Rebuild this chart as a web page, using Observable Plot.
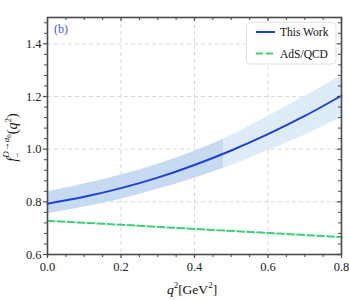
<!DOCTYPE html>
<html><head><meta charset="utf-8">
<script src="https://cdn.jsdelivr.net/npm/d3@7"></script>
<script src="https://cdn.jsdelivr.net/npm/@observablehq/plot@0.6"></script>
<style>body{margin:0;background:#fff} svg{overflow:visible}</style>
</head><body><div id="chart"></div>
<script>
// ---- data ----
const qValues = [0, 0.1, 0.2, 0.3, 0.4, 0.5, 0.6, 0.7, 0.8];
const thisWork = [0.793, 0.819, 0.852, 0.892, 0.940, 0.995, 1.057, 1.126, 1.203];

const bandDarkQ = [0, 0.1, 0.2, 0.3, 0.4, 0.48];
const bandDarkLow = [0.755, 0.780, 0.810, 0.848, 0.890, 0.928];
const bandDarkHigh = [0.838, 0.868, 0.902, 0.943, 0.992, 1.040];

const bandLightQ = [0.48, 0.5, 0.6, 0.7, 0.8];
const bandLightLow = [0.928, 0.938, 0.995, 1.053, 1.120];
const bandLightHigh = [1.040, 1.052, 1.125, 1.200, 1.280];

const adsQ = [0, 0.2, 0.4, 0.6, 0.8];
const adsQCD = [0.728, 0.713, 0.697, 0.682, 0.666];

const xMajor = [0, 0.2, 0.4, 0.6, 0.8];
const xMinor = [0.05, 0.1, 0.15, 0.25, 0.3, 0.35, 0.45, 0.5, 0.55, 0.65, 0.7, 0.75];
const yMajor = [0.6, 0.8, 1.0, 1.2, 1.4];
const yMinor = [0.64, 0.68, 0.72, 0.76, 0.84, 0.88, 0.92, 0.96, 1.04, 1.08, 1.12, 1.16, 1.24, 1.28, 1.32, 1.36, 1.44, 1.48];
const legendLabels = ["This Work", "AdS/QCD"];

// ---- tables ----
const lineData = qValues.map((q, i) => ({q, v: thisWork[i]}));
const darkData = bandDarkQ.map((q, i) => ({q, lo: bandDarkLow[i], hi: bandDarkHigh[i]}));
const lightData = bandLightQ.map((q, i) => ({q, lo: bandLightLow[i], hi: bandLightHigh[i]}));
const adsData = adsQ.map((q, i) => ({q, v: adsQCD[i]}));

const W = 349, H = 300;
const mL = 47, mR = 8, mT = 17, mB = 46;
const pw = W - mL - mR, ph = H - mT - mB;
const frameColor = "#4a4a4a";
const blue = "#1d3fe4", green = "#3dcf7b";

const chart = Plot.plot({
  width: W, height: H,
  marginLeft: mL, marginRight: mR, marginTop: mT, marginBottom: mB,
  style: {fontFamily: "'Liberation Serif', 'DejaVu Serif', serif", fontSize: "12.5px", color: "#222", background: "#fff"},
  x: {domain: [0, 0.8], label: null},
  y: {domain: [0.6, 1.5], label: null},
  marks: [
    Plot.gridX(xMajor, {stroke: "#d8d8d8", strokeOpacity: 1, strokeDasharray: "4,3"}),
    Plot.gridY(yMajor, {stroke: "#d8d8d8", strokeOpacity: 1, strokeDasharray: "4,3"}),
    Plot.areaY(darkData, {x: "q", y1: "lo", y2: "hi", fill: "#c6dbf2", curve: "monotone-x"}),
    Plot.areaY(lightData, {x: "q", y1: "lo", y2: "hi", fill: "#deebf8", curve: "monotone-x"}),
    Plot.line(adsData, {x: "q", y: "v", stroke: green, strokeWidth: 2, strokeDasharray: "7,3"}),
    Plot.line(lineData, {x: "q", y: "v", stroke: blue, strokeWidth: 2, curve: "monotone-x"}),
    Plot.frame({stroke: frameColor, strokeWidth: 1.6}),
    // bottom ticks (outward)
    Plot.tickX(xMajor, {x: d => d, insetTop: ph - 4, dy: 4, stroke: frameColor, strokeWidth: 1.2}),
    Plot.tickX(xMinor, {x: d => d, insetTop: ph - 3, dy: 3, stroke: frameColor, strokeWidth: 1}),
    // top ticks (inward)
    Plot.tickX(xMajor, {x: d => d, insetBottom: ph - 4, stroke: frameColor, strokeWidth: 1.2}),
    Plot.tickX(xMinor, {x: d => d, insetBottom: ph - 3, stroke: frameColor, strokeWidth: 1}),
    // left ticks (outward)
    Plot.tickY(yMajor, {y: d => d, insetRight: pw - 4, dx: -4, stroke: frameColor, strokeWidth: 1.2}),
    Plot.tickY(yMinor, {y: d => d, insetRight: pw - 3, dx: -3, stroke: frameColor, strokeWidth: 1}),
    // right ticks (inward)
    Plot.tickY(yMajor, {y: d => d, insetLeft: pw - 4, stroke: frameColor, strokeWidth: 1.2}),
    Plot.tickY(yMinor, {y: d => d, insetLeft: pw - 3, stroke: frameColor, strokeWidth: 1}),
    Plot.axisX(xMajor, {tickSize: 0, tickPadding: 8, tickFormat: d => d.toFixed(1), label: null, fontSize: 12.5}),
    Plot.axisY(yMajor, {tickSize: 0, tickPadding: 6, tickFormat: d => d.toFixed(1), label: null, fontSize: 12.5})
  ]
});
document.getElementById("chart").appendChild(chart);

// ---- text decorations (labels, legend) ----
const svg = d3.select(chart);
const serif = "'Liberation Serif', 'DejaVu Serif', serif";

// panel tag
svg.append("text").attr("x", 54).attr("y", 33).attr("text-anchor", "start").attr("fill", "#3a5ae0")
  .attr("font-family", serif).attr("font-size", 12).text("(b)");

// x label: q^2[GeV^2]
const xl = svg.append("text").attr("x", mL + pw / 2 - 2).attr("y", 294).attr("text-anchor", "middle")
  .attr("font-family", serif).attr("font-size", 13.5).attr("fill", "#111");
xl.append("tspan").attr("font-style", "italic").text("q");
xl.append("tspan").attr("font-size", 9).attr("dy", -6).text("2");
xl.append("tspan").attr("dy", 6).text("[GeV");
xl.append("tspan").attr("font-size", 9).attr("dy", -6).text("2");
xl.append("tspan").attr("dy", 6).text("]");

// y label: f_-^{D→a0}(q^2)
const yl = svg.append("text").attr("transform", `translate(17,${mT + ph / 2 + 2}) rotate(-90)`)
  .attr("text-anchor", "middle").attr("font-family", serif).attr("font-size", 14).attr("fill", "#111");
yl.append("tspan").attr("font-style", "italic").text("f");
yl.append("tspan").attr("font-size", 9).attr("dy", 3).text("−");
yl.append("tspan").attr("font-size", 9).attr("dy", -11).attr("dx", -5).attr("font-style", "italic").text("D→a");
yl.append("tspan").attr("font-size", 7).attr("dy", 2).text("0");
yl.append("tspan").attr("dy", 6).text("(");
yl.append("tspan").attr("font-style", "italic").text("q");
yl.append("tspan").attr("font-size", 9).attr("dy", -6).text("2");
yl.append("tspan").attr("dy", 6).text(")");

// legend
const lg = svg.append("g");
lg.append("rect").attr("x", 246.5).attr("y", 22.5).attr("width", 89.5).attr("height", 41.5)
  .attr("rx", 4).attr("fill", "#fff").attr("fill-opacity", 0.85).attr("stroke", "#e0e0e0").attr("stroke-width", 1);
lg.append("line").attr("x1", 256).attr("x2", 275).attr("y1", 32).attr("y2", 32)
  .attr("stroke", blue).attr("stroke-width", 2);
lg.append("line").attr("x1", 256).attr("x2", 275).attr("y1", 53.5).attr("y2", 53.5)
  .attr("stroke", green).attr("stroke-width", 2).attr("stroke-dasharray", "7,3");
lg.append("text").attr("x", 280).attr("y", 36).attr("text-anchor", "start").attr("font-family", serif).attr("font-size", 11.5).attr("fill", "#111").text(legendLabels[0]);
lg.append("text").attr("x", 280).attr("y", 57.5).attr("text-anchor", "start").attr("font-family", serif).attr("font-size", 11.5).attr("fill", "#111").text(legendLabels[1]);
</script>
</body></html>
